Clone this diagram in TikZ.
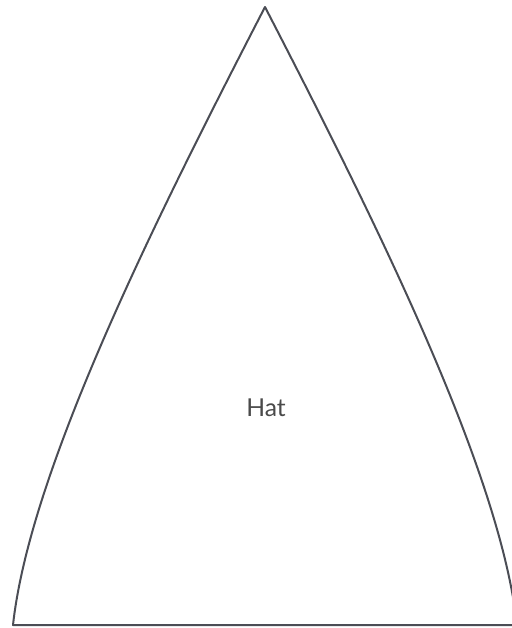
\documentclass[tikz,border=0pt]{standalone}
\usepackage{fontspec}
\setmainfont{Lato}
\definecolor{hatline}{HTML}{4B4D55}
\definecolor{hattext}{HTML}{4A4A4A}
\begin{document}
\begin{tikzpicture}[x=0.75pt,y=-0.75pt]
\useasboundingbox (0,0) rectangle (511,628);
% hat outline
\draw[hatline, line width=1.5pt, line join=round]
  (265,7) coordinate (apex)
  .. controls (155,220) and (30,470) .. (13,625) coordinate (bl)
  -- (517,625) coordinate (br)
  .. controls (500,470) and (375,220) .. (apex) -- cycle;
% label
\node[text=hattext, font=\fontsize{18.5}{22}\selectfont] (hat) at (266,408) {Hat};
\end{tikzpicture}
\end{document}
